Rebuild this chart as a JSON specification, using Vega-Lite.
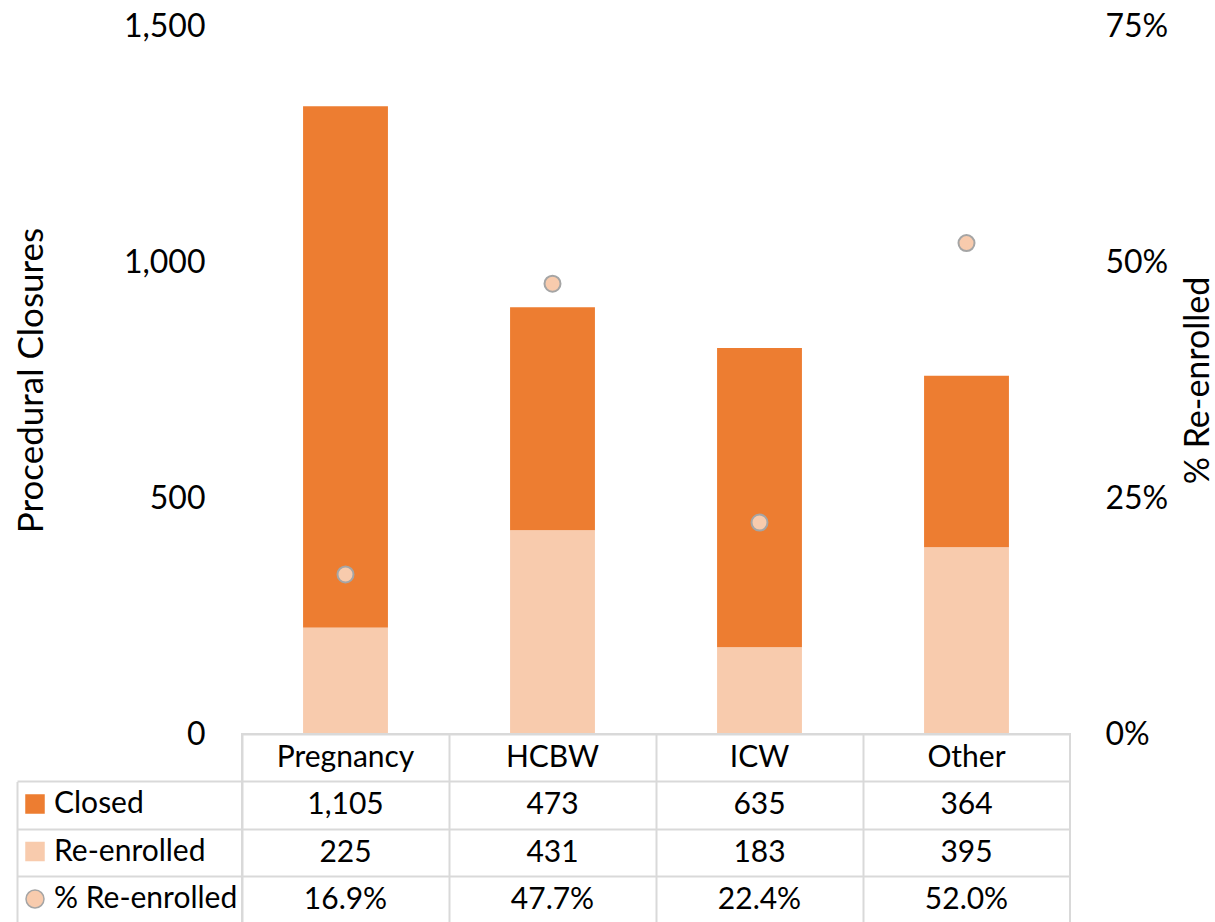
{
  "$schema": "https://vega.github.io/schema/vega-lite/v6.json",
  "padding": {"left": 14, "top": 10, "right": 0, "bottom": 0},
  "background": "white",
  "config": {
    "font": "Lato",
    "view": {"stroke": null},
    "axis": {"labelFont": "Lato", "titleFont": "Lato", "labelColor": "#000000", "titleColor": "#000000", "titleFontWeight": "normal"},
    "legend": {"labelFont": "Lato", "labelColor": "#000000", "labelLimit": 400}
  },
  "data": {
    "values": [
      {"category": "Pregnancy", "Closed": 1105, "Re-enrolled": 225, "pct": 0.169},
      {"category": "HCBW", "Closed": 473, "Re-enrolled": 431, "pct": 0.477},
      {"category": "ICW", "Closed": 635, "Re-enrolled": 183, "pct": 0.224},
      {"category": "Other", "Closed": 364, "Re-enrolled": 395, "pct": 0.52}
    ]
  },
  "spacing": 0,
  "bounds": "flush",
  "vconcat": [
    {
      "width": 828,
      "height": 708,
      "layer": [
        {
          "transform": [{"fold": ["Closed", "Re-enrolled"], "as": ["series", "value"]}],
          "mark": {"type": "bar", "width": {"band": 0.41}},
          "encoding": {
            "x": {"field": "category", "type": "nominal", "sort": ["Pregnancy", "HCBW", "ICW", "Other"], "scale": {"type": "band", "paddingInner": 0, "paddingOuter": 0}, "axis": null},
            "y": {"field": "value", "type": "quantitative", "stack": "zero", "scale": {"domain": [0, 1500]},
              "axis": {"values": [0, 500, 1000, 1500], "format": ",d", "grid": false, "ticks": false, "domain": false, "labelFontSize": 32, "labelPadding": 37, "title": "Procedural Closures", "titleFontSize": 35, "titlePadding": 74}},
            "color": {"field": "series", "type": "nominal",
              "scale": {"domain": ["Closed", "Re-enrolled", "% Re-enrolled"], "range": ["#ED7D31", "#F8CBAD", "#F8CBAD"]},
              "legend": {"orient": "none", "legendX": -222, "legendY": 763, "direction": "vertical", "title": null, "symbolSize": 324, "labelFontSize": 30, "labelOffset": 4, "rowPadding": 17.5, "symbolStrokeWidth": 1.5, "symbolOpacity": 1, "labelLimit": 400}},
            "order": {"field": "series", "sort": "descending"}
          }
        },
        {
          "mark": {"type": "point", "filled": true, "size": 256, "strokeWidth": 2, "opacity": 1},
          "encoding": {
            "x": {"field": "category", "type": "nominal", "sort": ["Pregnancy", "HCBW", "ICW", "Other"], "scale": {"type": "band", "paddingInner": 0, "paddingOuter": 0}, "axis": null},
            "y": {"field": "pct", "type": "quantitative", "scale": {"domain": [0, 0.75]},
              "axis": {"orient": "right", "values": [0, 0.25, 0.5, 0.75], "format": ".0%", "grid": false, "ticks": false, "domain": false, "labelFontSize": 32, "labelPadding": 35, "title": "% Re-enrolled", "titleFontSize": 34, "titleAngle": -90, "titlePadding": 48}},
            "color": {"datum": "% Re-enrolled", "type": "nominal"},
            "shape": {"datum": "% Re-enrolled", "type": "nominal",
              "scale": {"domain": ["Closed", "Re-enrolled", "% Re-enrolled"], "range": ["square", "square", "circle"]},
              "legend": {"orient": "none", "legendX": -222, "legendY": 763, "direction": "vertical", "title": null, "symbolSize": 324, "labelFontSize": 30, "labelOffset": 4, "rowPadding": 17.5, "symbolStrokeWidth": 1.5, "symbolOpacity": 1, "labelLimit": 400}},
            "stroke": {"datum": "% Re-enrolled", "type": "nominal",
              "scale": {"domain": ["Closed", "Re-enrolled", "% Re-enrolled"], "range": ["#ED7D31", "#F8CBAD", "#A5A5A5"]},
              "legend": {"orient": "none", "legendX": -222, "legendY": 763, "direction": "vertical", "title": null, "symbolSize": 324, "labelFontSize": 30, "labelOffset": 4, "rowPadding": 17.5, "symbolStrokeWidth": 1.5, "symbolOpacity": 1, "labelLimit": 400}}
          }
        }
      ],
      "resolve": {"scale": {"y": "independent"}}
    },
    {
      "width": 828,
      "height": 190,
      "view": {"stroke": "#D9D9D9", "strokeWidth": 2},
      "layer": [
        {
          "mark": {"type": "text", "fontSize": 30, "color": "#000000"},
          "encoding": {
            "x": {"field": "category", "type": "nominal", "sort": ["Pregnancy", "HCBW", "ICW", "Other"], "scale": {"type": "band", "paddingInner": 0, "paddingOuter": 0},
              "axis": {"orient": "top", "grid": true, "bandPosition": 0, "gridColor": "#D9D9D9", "gridWidth": 2, "labels": false, "ticks": false, "domain": false, "title": null}},
            "y": {"datum": "header", "type": "nominal", "scale": {"type": "band", "domain": ["header", "Closed", "Re-enrolled", "% Re-enrolled"], "paddingInner": 0, "paddingOuter": 0},
              "axis": {"orient": "left", "grid": true, "bandPosition": 0, "gridColor": "#D9D9D9", "gridWidth": 2, "labels": false, "ticks": false, "domain": false, "title": null}},
            "text": {"field": "category"}
          }
        },
        {
          "layer": [
            {
              "mark": {"type": "text", "fontSize": 30, "color": "#000000"},
              "encoding": {
                "x": {"field": "category", "type": "nominal", "sort": ["Pregnancy", "HCBW", "ICW", "Other"], "scale": {"type": "band", "paddingInner": 0, "paddingOuter": 0},
                  "axis": {"orient": "top", "grid": true, "bandPosition": 0, "gridColor": "#D9D9D9", "gridWidth": 2, "labels": false, "ticks": false, "domain": false, "title": null}},
                "y": {"datum": "Closed", "type": "nominal", "scale": {"type": "band", "domain": ["Closed", "Re-enrolled", "% Re-enrolled"], "range": [47.5, 190], "paddingInner": 0, "paddingOuter": 0},
                  "axis": {"orient": "left", "offset": 225, "grid": false, "bandPosition": 0, "domain": true, "domainColor": "#D9D9D9", "domainWidth": 2, "ticks": true, "tickSize": -225, "tickColor": "#D9D9D9", "tickWidth": 2, "labels": false, "title": null}},
                "text": {"field": "Closed", "format": ","}
              }
            },
            {
              "mark": {"type": "text", "fontSize": 30, "color": "#000000"},
              "encoding": {
                "x": {"field": "category", "type": "nominal", "sort": ["Pregnancy", "HCBW", "ICW", "Other"]},
                "y": {"datum": "Re-enrolled", "type": "nominal"},
                "text": {"field": "Re-enrolled", "format": ","}
              }
            },
            {
              "mark": {"type": "text", "fontSize": 30, "color": "#000000"},
              "encoding": {
                "x": {"field": "category", "type": "nominal", "sort": ["Pregnancy", "HCBW", "ICW", "Other"]},
                "y": {"datum": "% Re-enrolled", "type": "nominal"},
                "text": {"field": "pct", "format": ".1%"}
              }
            }
          ]
        }
      ],
      "resolve": {"scale": {"y": "independent"}, "axis": {"y": "independent"}}
    }
  ]
}
